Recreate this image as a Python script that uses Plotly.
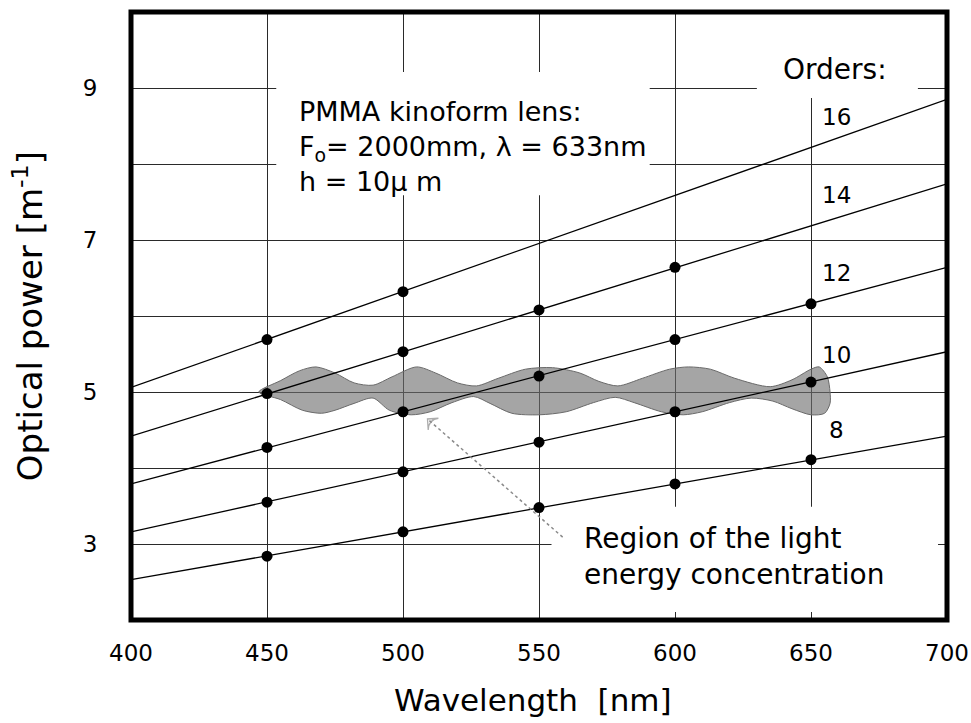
import plotly.graph_objects as go

# ---------------- data ----------------
x_tickvals = [400, 450, 500, 550, 600, 650, 700]
y_tickvals = [3, 5, 7, 9]
y_minor_gridvals = [4, 6, 8]

orders = [16, 14, 12, 10, 8]
order_line_x = [400, 700]
order_line_y = {
    16: [5.06, 8.85],
    14: [4.42, 7.74],
    12: [3.79, 6.64],
    10: [3.16, 5.53],
    8: [2.53, 4.42],
}

meas_x = {
    16: [450, 500],
    14: [450, 500, 550, 600],
    12: [450, 500, 550, 600, 650],
    10: [450, 500, 550, 600, 650],
    8: [450, 500, 550, 600, 650],
}
meas_y = {
    16: [5.69, 6.32],
    14: [4.98, 5.53, 6.08, 6.64],
    12: [4.27, 4.74, 5.21, 5.69, 6.16],
    10: [3.55, 3.95, 4.34, 4.74, 5.13],
    8: [2.84, 3.16, 3.48, 3.79, 4.11],
}

order_label_x = 659.5
order_label_y = [8.62, 7.59, 6.57, 5.49, 4.50]

# region of the light energy concentration (outline)
blob_top_x = [447, 455, 462, 468, 475, 482, 489, 496, 505, 512, 520, 527, 535,
              545, 555, 565, 572, 579, 588, 598, 605, 613, 622, 635, 643, 650,
              653, 656, 657]
blob_top_y = [5.00, 5.15, 5.28, 5.33, 5.25, 5.12, 5.09, 5.20, 5.33, 5.25, 5.12,
              5.08, 5.18, 5.30, 5.32, 5.25, 5.14, 5.08, 5.18, 5.30, 5.33, 5.30,
              5.18, 5.07, 5.16, 5.30, 5.33, 5.20, 5.00]
blob_bot_x = [657, 655, 650, 643, 636, 628, 620, 610, 603, 595, 585, 578, 570,
              560, 550, 540, 532, 526, 518, 510, 503, 495, 489, 482, 475, 470,
              463, 455, 447]
blob_bot_y = [4.85, 4.72, 4.70, 4.78, 4.88, 4.92, 4.86, 4.74, 4.70, 4.74, 4.86,
              4.93, 4.86, 4.74, 4.70, 4.72, 4.85, 4.94, 4.86, 4.74, 4.70, 4.76,
              4.92, 4.85, 4.76, 4.72, 4.76, 4.90, 5.00]

arrow_x = [558.7, 509.0]
arrow_y = [3.09, 4.645]

FONT = "DejaVu Sans"

fig = go.Figure()

# blob
fig.add_trace(go.Scatter(
    x=blob_top_x + blob_bot_x, y=blob_top_y + blob_bot_y,
    mode="lines", fill="toself", fillcolor="rgba(110,110,110,0.62)",
    line=dict(color="#6a6a6a", width=1, shape="spline", smoothing=0.8),
    hoverinfo="skip", showlegend=False))

# order lines
for m in orders:
    fig.add_trace(go.Scatter(
        x=order_line_x, y=order_line_y[m], mode="lines",
        line=dict(color="black", width=1.3), showlegend=False))

# measured points
for m in orders:
    fig.add_trace(go.Scatter(
        x=meas_x[m], y=meas_y[m], mode="markers",
        marker=dict(color="black", size=11), showlegend=False))

# dotted arrow
fig.add_trace(go.Scatter(
    x=arrow_x, y=arrow_y, mode="lines+markers",
    line=dict(color="#8a8a8a", width=1.5, dash="dot"),
    marker=dict(symbol="arrow-wide-open", size=[0, 11], angleref="previous",
                color="#8a8a8a", line=dict(color="#8a8a8a", width=1.3)),
    showlegend=False))

shapes = [
    # white text boxes hiding the grid
    dict(type="rect", xref="x", yref="y", x0=453.4, x1=590.7, y0=7.59, y1=9.21,
         fillcolor="white", line=dict(width=0), layer="between"),
    dict(type="rect", xref="x", yref="y", x0=630.1, x1=689.3, y0=8.87, y1=10,
         fillcolor="white", line=dict(width=0), layer="between"),
    dict(type="rect", xref="x", yref="y", x0=554.6, x1=696.7, y0=2.105, y1=3.49,
         fillcolor="white", line=dict(width=0), layer="between"),
    # frame
    dict(type="rect", xref="paper", yref="paper", x0=0, x1=1, y0=0, y1=1,
         line=dict(color="black", width=5), layer="above"),
]

annotations = [
    dict(x=461.1, y=8.23, xref="x", yref="y", xanchor="left", yanchor="middle",
         align="left", showarrow=False,
         text="PMMA kinoform lens:<br>F<sub>o</sub>= 2000mm, λ = 633nm<br>h = 10µ m",
         font=dict(family=FONT, size=27, color="black")),
    dict(x=659.0, y=9.24, xref="x", yref="y", xanchor="center", yanchor="middle",
         showarrow=False, text="Orders:",
         font=dict(family=FONT, size=28, color="black")),
    dict(x=565.8, y=2.84, xref="x", yref="y", xanchor="left", yanchor="middle",
         align="left", showarrow=False,
         text="Region of the light<br>energy concentration",
         font=dict(family=FONT, size=28, color="black")),
    dict(x=-0.126, y=0.50, xref="paper", yref="paper", xanchor="center",
         yanchor="middle", textangle=-90, showarrow=False,
         text="Optical power [m<sup>-1</sup>]",
         font=dict(family=FONT, size=34, color="black")),
    dict(x=0.493, y=-0.132, xref="paper", yref="paper", xanchor="center",
         yanchor="middle", showarrow=False, text="Wavelength  [nm]",
         font=dict(family=FONT, size=31, color="black")),
]
for m, ly in zip(orders, order_label_y):
    annotations.append(dict(x=order_label_x, y=ly, xref="x", yref="y",
                            xanchor="center", yanchor="middle", showarrow=False,
                            text=str(m),
                            font=dict(family=FONT, size=23, color="black")))

fig.update_layout(
    width=971, height=723,
    margin=dict(l=131, r=24, t=12, b=103, autoexpand=False),
    paper_bgcolor="white", plot_bgcolor="white",
    showlegend=False,
    shapes=shapes, annotations=annotations,
    xaxis=dict(range=[400, 700], tickvals=x_tickvals,
               ticktext=[str(v) for v in x_tickvals],
               showgrid=True, gridcolor="#2a2a2a", gridwidth=1,
               zeroline=False, showline=False, automargin=False,
               ticks="outside", ticklen=12, tickcolor="rgba(0,0,0,0)",
               tickfont=dict(family=FONT, size=23, color="black")),
    yaxis=dict(range=[2, 10], tickvals=y_tickvals,
               ticktext=[str(v) for v in y_tickvals],
               showgrid=True, gridcolor="#2a2a2a", gridwidth=1,
               minor=dict(tickvals=y_minor_gridvals, showgrid=True,
                          gridcolor="#2a2a2a", gridwidth=1, ticks=""),
               zeroline=False, showline=False, automargin=False,
               ticks="outside", ticklen=28, tickcolor="rgba(0,0,0,0)",
               tickfont=dict(family=FONT, size=23, color="black")),
)

fig.write_html("out.html", config={"displayModeBar": False},
               post_script="document.body.style.margin='0';document.body.style.padding='0';")
